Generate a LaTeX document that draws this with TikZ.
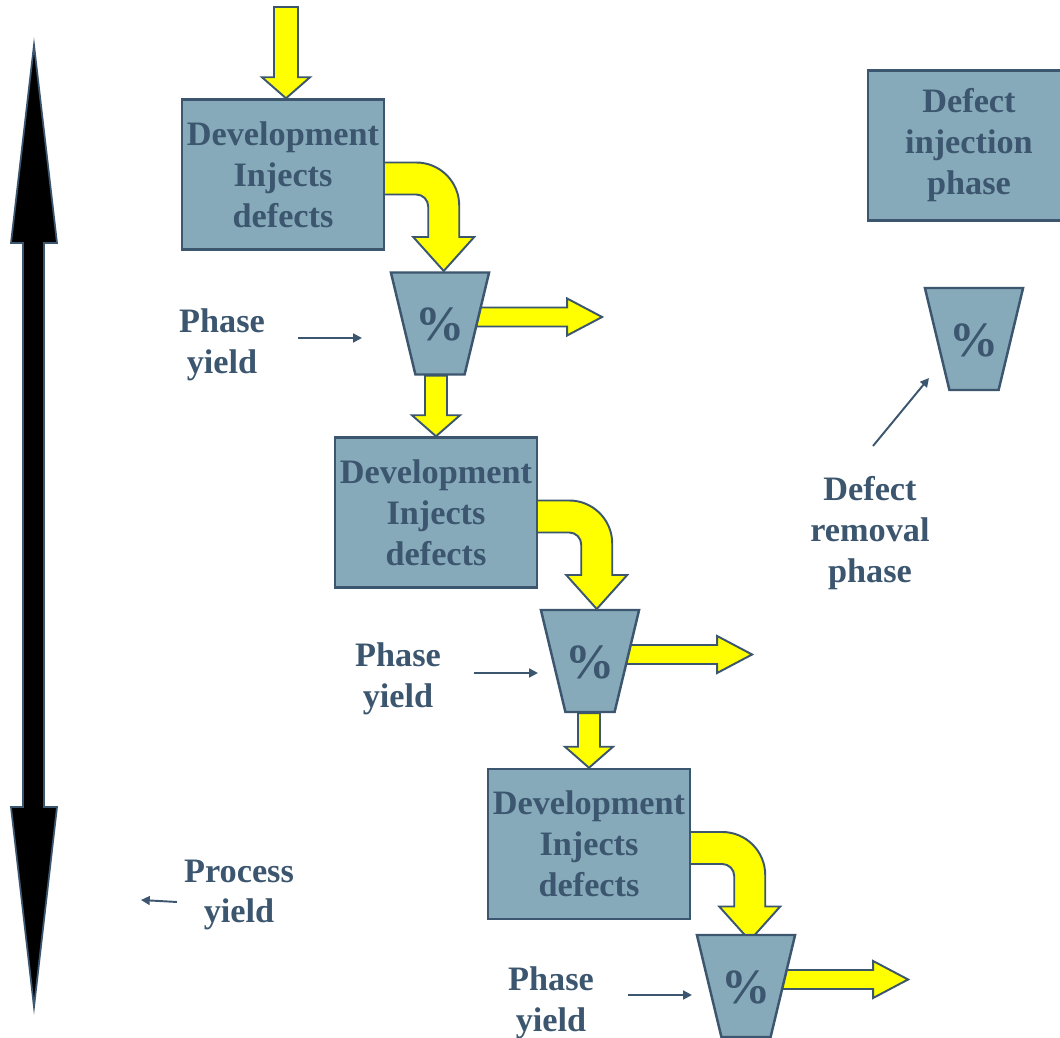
\documentclass[tikz,border=0pt]{standalone}
\usepackage{fontspec}
\setmainfont{Liberation Serif}
\usetikzlibrary{shapes.geometric,calc,backgrounds,arrows.meta}
\definecolor{slate}{RGB}{59,86,110}
\definecolor{boxfill}{RGB}{135,170,186}
\definecolor{flow}{RGB}{255,255,0}
% straight yellow arrow going down, #1 = top, #2 = tip, #3 = half width of shaft
\newcommand\blockdown[3]{%
  \draw[blockarrow] ($(#2 |- #1)+(-#3,0)$) -- ($(#2)+(-#3,21)$) -- ($(#2)+(-24,21)$) -- (#2)
    -- ($(#2)+(24,21)$) -- ($(#2)+(#3,21)$) -- ($(#2 |- #1)+(#3,0)$) -- cycle;}
% bent yellow arrow leaving a box on its right side
\newcommand\blockbend[1]{%
  \draw[blockarrow] ($(#1.east)+(-4,12)$) -- ++(35,0) arc[start angle=90,end angle=0,radius=43]
    -- ++(0,-31.5) -- ++(15,0) -- ++(-30.5,-34) -- ++(-30.5,34) -- ++(15,0) -- ++(0,30.5)
    arc[start angle=0,end angle=90,radius=12] -- ++(-35,0) -- cycle;}
% yellow arrow for the defects removed in a phase
\newcommand\yieldout[1]{%
  \draw[blockarrow] ($(#1.east)+(-6,16)$) -- ++(95,0) -- ++(0,9) -- ++(35,-18.5) -- ++(-35,-18.5)
    -- ++(0,9) -- ++(-95,0) -- cycle;}

\begin{document}
\begin{tikzpicture}[x=0.2mm,y=0.2mm,
every node/.style={text=slate,font=\bfseries\fontsize{19.5}{23.3}\selectfont},
devbox/.style={rectangle,draw=slate,fill=boxfill,line width=1.4pt,
  minimum width=40.4mm,minimum height=30mm,inner sep=0pt,align=center},
% the text box sets the height, so the sides keep their slope
yieldbox/.style={trapezium,trapezium stretches body,shape border rotate=180,
  trapezium angle=76.5,minimum width=19.2mm,inner sep=0pt,
  text height=13.7mm,text depth=6.7mm,
  draw=slate,fill=boxfill,line width=1.4pt,font=\bfseries\fontsize{28}{30}\selectfont},
label/.style={align=center},
blockarrow/.style={draw=slate,fill=flow,line width=1.1pt,line join=miter},
pointer/.style={draw=slate,line width=1.1pt,-{Triangle[length=5pt,width=5pt]}}]
\useasboundingbox (0,0) rectangle (1060,-1038);

% the whole process, top to bottom
\draw[fill=black,draw=slate,line width=1pt] (34,-45) -- (57,-243) -- (44,-243) -- (44,-807)
  -- (57,-807) -- (34,-1007) -- (11,-807) -- (23,-807) -- (23,-243) -- (11,-243) -- cycle;

%phases
\node[devbox] (d1) at (283,-174.5) {Development\\Injects\\defects};
\node[yieldbox] (t1) at (440,-323.5) {\%};
\node[devbox] (d2) at (436,-512.5) {Development\\Injects\\defects};
\node[yieldbox] (t2) at (590,-661) {\%};
\node[devbox] (d3) at (589,-844) {Development\\Injects\\defects};
\node[yieldbox] (t3) at (746,-986) {\%};

%legend
\node[devbox] (inj) at (969,-145.5) {Defect\\injection\\phase};
\node[yieldbox] (rem) at (974,-339) {\%};
\node[label] (remtxt) at (870,-533) {Defect\\removal\\phase};

\node[label] (py1) at (222,-345) {Phase\\yield};
\node[label] (py2) at (398,-679) {Phase\\yield};
\node[label] (py3) at (551,-1003) {Phase\\yield};
\node[label] (proc) at (239,-895) {Process\\yield};

%flow of defects, kept behind the boxes
\coordinate (src) at (286,-7);
\coordinate (srctip) at (d1.north -| src);
\begin{pgfonlayer}{background}
\blockdown{src}{srctip}{12}
\blockbend{d1}
\yieldout{t1}
\blockdown{t1.south}{d2.north}{11}
\blockbend{d2}
\yieldout{t2}
\blockdown{t2.south}{d3.north}{11}
\blockbend{d3}
\yieldout{t3}
\end{pgfonlayer}

%small pointers
\coordinate (a1) at (298,-338); \coordinate (b1) at (362,-338);
\coordinate (a2) at (474,-673); \coordinate (b2) at (538,-673);
\coordinate (a3) at (628,-995); \coordinate (b3) at (692,-995);
\coordinate (a4) at (177,-902); \coordinate (b4) at (141,-900);
\coordinate (a5) at (873,-446); \coordinate (b5) at (929,-378);
\foreach \n in {1,...,5}
  \draw[pointer] (a\n) -- (b\n);
\end{tikzpicture}
\end{document}
